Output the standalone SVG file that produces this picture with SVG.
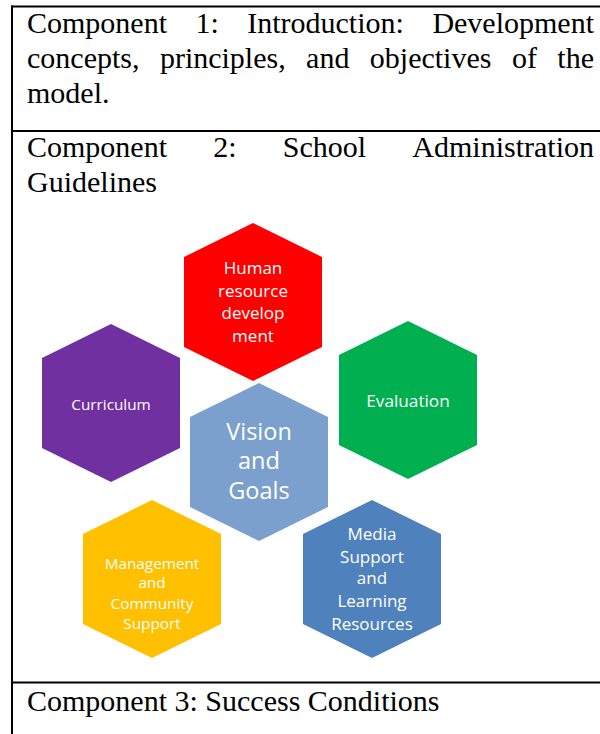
<svg xmlns="http://www.w3.org/2000/svg" width="600" height="734" viewBox="0 0 600 734">
<defs>
<style>
.tbl{stroke:#000;stroke-width:2;fill:none}
.t{font-family:"Liberation Serif","Times New Roman",serif;font-size:30px;fill:#000}
.e{text-anchor:end}
.h{font-family:"Open Sans","Noto Sans",sans-serif;fill:#FFFFFF;text-anchor:middle}
</style>
<polygon id="hex" points="0,-79 69,-45 69,45 0,79 -69,45 -69,-45"/>
</defs>
<rect width="600" height="734" fill="#FFFFFF"/>
<g id="table">
<line class="tbl" x1="11" y1="6.5" x2="600" y2="6.5"/>
<line class="tbl" x1="12" y1="5.5" x2="12" y2="734"/>
<line class="tbl" x1="11" y1="131" x2="600" y2="131"/>
<line class="tbl" x1="11" y1="682.5" x2="600" y2="682.5"/>
</g>
<g id="component1">
<text class="t" x="27" y="33">Component</text>
<text class="t" x="195.5" y="33">1:</text>
<text class="t" x="247.2" y="33">Introduction:</text>
<text class="t e" x="594" y="33">Development</text>
<text class="t" x="27" y="68">concepts,</text>
<text class="t" x="159.9" y="68">principles,</text>
<text class="t" x="306.1" y="68">and</text>
<text class="t" x="369.8" y="68">objectives</text>
<text class="t" x="511.9" y="68">of</text>
<text class="t e" x="594" y="68">the</text>
<text class="t" x="27" y="103">model.</text>
</g>
<g id="component2">
<text class="t" x="27" y="157">Component</text>
<text class="t" x="213.2" y="157">2:</text>
<text class="t" x="282.8" y="157">School</text>
<text class="t e" x="594" y="157">Administration</text>
<text class="t" x="27" y="192">Guidelines</text>
</g>
<g id="component3">
<text class="t" x="27" y="711">Component 3: Success Conditions</text>
</g>
<g id="connectors"/>
<g id="hr">
<use href="#hex" x="253" y="302" fill="#FF0000"/>
<text class="h" font-size="17" x="253" y="274">Human</text>
<text class="h" font-size="17" x="253" y="296.5">resource</text>
<text class="h" font-size="17" x="253" y="319">develop</text>
<text class="h" font-size="17" x="253" y="342">ment</text>
</g>
<g id="curriculum">
<use href="#hex" x="111" y="403" fill="#7030A0"/>
<text class="h" font-size="15.3" x="111" y="410">Curriculum</text>
</g>
<g id="evaluation">
<use href="#hex" x="408" y="400" fill="#00B050"/>
<text class="h" font-size="17.2" x="408" y="407">Evaluation</text>
</g>
<g id="vision">
<use href="#hex" x="259" y="462" fill="#7BA0CD"/>
<text class="h" font-size="23.5" x="259" y="440">Vision</text>
<text class="h" font-size="23.5" x="259" y="469">and</text>
<text class="h" font-size="23.5" x="259" y="499">Goals</text>
</g>
<g id="management">
<use href="#hex" x="152" y="579" fill="#FFC000"/>
<text class="h" font-size="15.3" x="152" y="569">Management</text>
<text class="h" font-size="15.3" x="152" y="588">and</text>
<text class="h" font-size="15.3" x="152" y="609">Community</text>
<text class="h" font-size="15.3" x="152" y="629">Support</text>
</g>
<g id="media">
<use href="#hex" x="372" y="579" fill="#4F81BD"/>
<text class="h" font-size="17" x="372" y="540">Media</text>
<text class="h" font-size="17" x="372" y="563">Support</text>
<text class="h" font-size="17" x="372" y="584">and</text>
<text class="h" font-size="17" x="372" y="607">Learning</text>
<text class="h" font-size="17" x="372" y="630">Resources</text>
</g>
</svg>
